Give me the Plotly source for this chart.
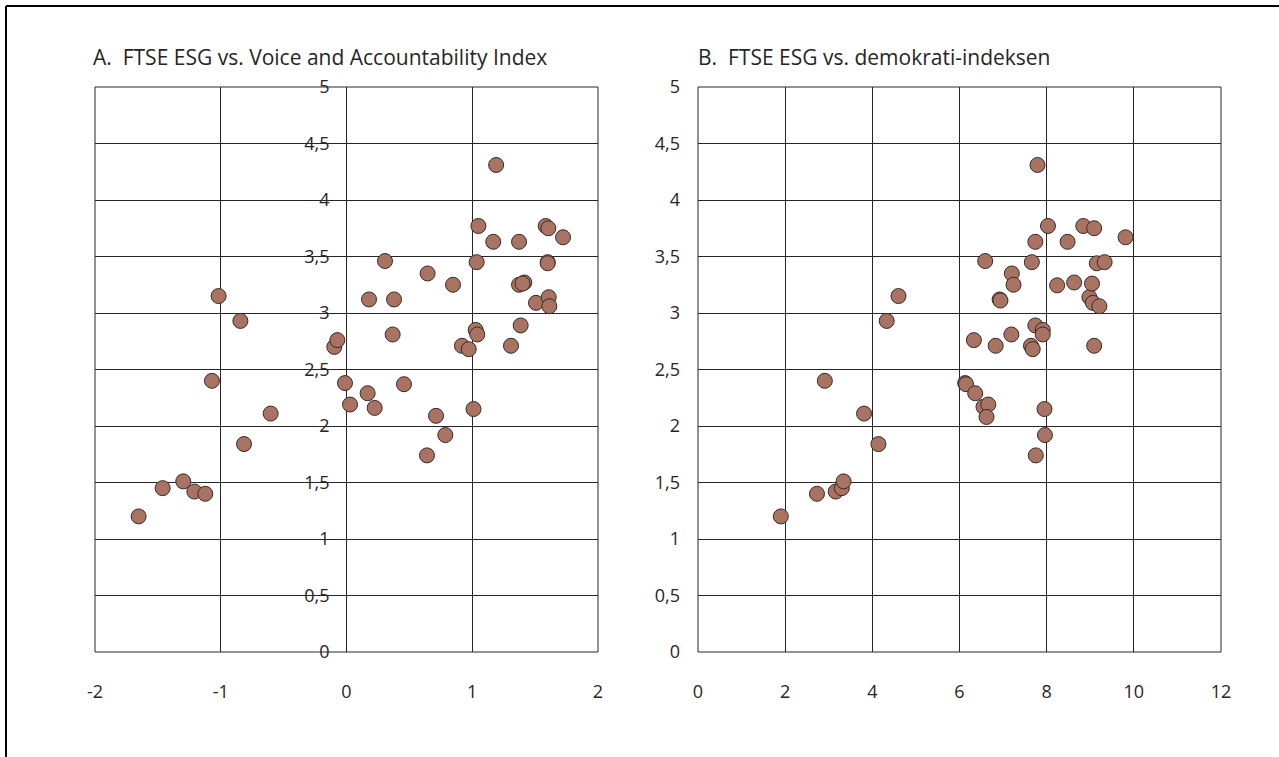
import plotly.graph_objects as go

# Panel A: Voice and Accountability Index (x) vs FTSE ESG (y)
voice = [-1.653, -1.462, -1.298, -1.21, -1.123, -1.07, -1.017, -0.844, -0.815, -0.603,
         -0.097, -0.073, -0.012, 0.028, 0.168, 0.179, 0.224, 0.306, 0.367, 0.378,
         0.457, 0.645, 0.64, 0.712, 0.786, 0.847, 0.918, 0.972, 1.01, 1.035,
         1.027, 1.04, 1.049, 1.167, 1.19, 1.308, 1.372, 1.372, 1.385, 1.414,
         1.40, 1.60, 1.60, 1.507, 1.584, 1.605, 1.608, 1.613, 1.722]
ftse_a = [1.20, 1.45, 1.51, 1.42, 1.40, 2.40, 3.15, 2.93, 1.84, 2.11,
          2.70, 2.76, 2.38, 2.19, 2.29, 3.12, 2.16, 3.46, 2.81, 3.12,
          2.37, 3.35, 1.74, 2.09, 1.92, 3.25, 2.71, 2.68, 2.15, 3.45,
          2.85, 2.81, 3.77, 3.63, 4.31, 2.71, 3.63, 3.25, 2.89, 3.27,
          3.26, 3.45, 3.44, 3.09, 3.77, 3.75, 3.14, 3.06, 3.67]

# Panel B: democracy index (x) vs FTSE ESG (y)
demokrati = [1.90, 2.73, 3.16, 3.30, 3.34, 2.91, 3.81, 4.14, 4.33, 4.60,
             6.13, 6.15, 6.33, 6.36, 6.55, 6.66, 6.62, 6.59, 6.83, 6.92,
             6.94, 7.19, 7.20, 7.24, 7.64, 7.68, 7.66, 7.74, 7.74, 7.75,
             7.79, 7.91, 7.91, 7.95, 7.96, 8.03, 8.24, 8.48, 8.63, 8.84,
             8.98, 9.04, 9.06, 9.09, 9.09, 9.15, 9.21, 9.33, 9.81]
ftse_b = [1.20, 1.40, 1.42, 1.45, 1.51, 2.40, 2.11, 1.84, 2.93, 3.15,
          2.38, 2.37, 2.76, 2.29, 2.17, 2.19, 2.08, 3.46, 2.71, 3.12,
          3.11, 2.81, 3.35, 3.25, 2.71, 2.68, 3.45, 3.63, 2.89, 1.74,
          4.31, 2.85, 2.81, 2.15, 1.92, 3.77, 3.245, 3.63, 3.27, 3.77,
          3.14, 3.26, 3.09, 3.75, 2.71, 3.44, 3.06, 3.45, 3.67]

title_a = "A.\u00a0 FTSE ESG vs. Voice and Accountability Index"
title_b = "B.\u00a0 FTSE ESG vs. demokrati-indeksen"

y_ticks = [0, 0.5, 1, 1.5, 2, 2.5, 3, 3.5, 4, 4.5, 5]
y_labels = ["0", "0,5", "1", "1,5", "2", "2,5", "3", "3,5", "4", "4,5", "5"]
xa_ticks = [-2, -1, 0, 1, 2]
xa_labels = ["-2", "-1", "0", "1", "2"]
xb_ticks = [0, 2, 4, 6, 8, 10, 12]
xb_labels = ["0", "2", "4", "6", "8", "10", "12"]

W, H = 1279, 757
FILL = "#A87363"
EDGE = "#3a2a25"
GRID = "#262626"
TXT = "#262626"
FONT = "Open Sans"

def px_x(p):
    return p / W

def px_y(p):
    return 1 - p / H

fig = go.Figure()
marker = dict(size=15, color=FILL, line=dict(color=EDGE, width=1))
fig.add_trace(go.Scatter(x=voice, y=ftse_a, mode="markers", marker=marker,
                         xaxis="x", yaxis="y", showlegend=False))
fig.add_trace(go.Scatter(x=demokrati, y=ftse_b, mode="markers", marker=marker,
                         xaxis="x2", yaxis="y2", showlegend=False))

ydom = [px_y(652), px_y(87)]
xa_dom = [px_x(95), px_x(598)]
xb_dom = [px_x(698), px_x(1221)]

common_x = dict(showgrid=True, gridcolor=GRID, gridwidth=1, zeroline=False,
                showline=False, ticks="", tickfont=dict(family=FONT, size=18, color=TXT),
                ticklabelstandoff=27, fixedrange=True, automargin=False)
common_y = dict(showgrid=True, gridcolor=GRID, gridwidth=1, zeroline=False,
                showline=False, ticks="", range=[0, 5], tickvals=y_ticks, ticktext=y_labels,
                tickfont=dict(family=FONT, size=18, color=TXT), fixedrange=True,
                automargin=False)

# position of x=0 in panel A as a paper fraction
x0_frac = xa_dom[0] + (0 - (-2)) / 4 * (xa_dom[1] - xa_dom[0])

fig.update_layout(
    width=W, height=H,
    margin=dict(l=0, r=0, t=0, b=0, autoexpand=False),
    paper_bgcolor="white", plot_bgcolor="white",
    font=dict(family=FONT, color=TXT),
    xaxis=dict(common_x, domain=xa_dom, range=[-2, 2], tickvals=xa_ticks,
               ticktext=xa_labels, anchor="y"),
    yaxis=dict(common_y, domain=ydom, anchor="free", position=x0_frac,
               ticklabelstandoff=17),
    xaxis2=dict(common_x, domain=xb_dom, range=[0, 12], tickvals=xb_ticks,
                ticktext=xb_labels, anchor="y2"),
    yaxis2=dict(common_y, domain=ydom, anchor="x2", ticklabelstandoff=17),
)

shapes = []
for xr, yr in (("x domain", "y domain"), ("x2 domain", "y2 domain")):
    shapes.append(dict(type="rect", xref=xr, yref=yr, x0=0, x1=1, y0=0, y1=1,
                       line=dict(color=GRID, width=1), layer="below"))
# outer frame (top and left edges)
shapes.append(dict(type="line", xref="paper", yref="paper",
                   x0=px_x(6), x1=1, y0=px_y(6), y1=px_y(6),
                   line=dict(color="black", width=2)))
shapes.append(dict(type="line", xref="paper", yref="paper",
                   x0=px_x(6), x1=px_x(6), y0=0, y1=px_y(6),
                   line=dict(color="black", width=2)))
fig.update_layout(shapes=shapes)

for txt, xp in ((title_a, 91), (title_b, 696)):
    fig.add_annotation(text=txt, xref="paper", yref="paper", x=px_x(xp), y=px_y(57),
                       xanchor="left", yanchor="middle", showarrow=False,
                       font=dict(family=FONT, size=21, color=TXT))

fig.write_html("out.html", config={"displayModeBar": False},
               post_script="document.body.style.margin='0';document.body.style.overflow='hidden';")
